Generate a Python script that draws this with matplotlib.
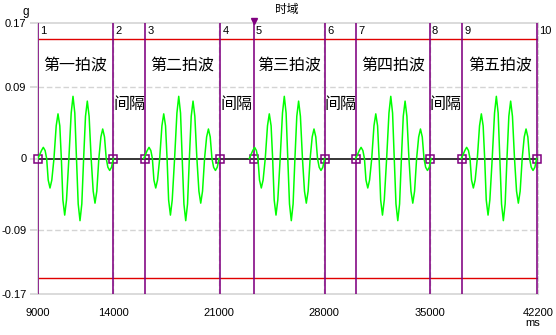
import matplotlib
matplotlib.use("Agg")
import matplotlib.pyplot as plt
from matplotlib.transforms import offset_copy

plt.rcParams['font.family'] = ['Liberation Sans', 'Noto Sans CJK SC', 'DejaVu Sans']

# ---- data ----
title = "时域"
y_unit = "g"
x_unit = "ms"
x_ticks = [9000, 14000, 21000, 28000, 35000, 42200]
y_ticks = [0.17, 0.09, 0, -0.09, -0.17]
y_tick_labels = ["0.17", "0.09", "0", "-0.09", "-0.17"]
x_min, x_max = 9000, 42200
y_min, y_max = -0.17, 0.17
limit_lines = [0.15, -0.15]

marker_ms = [9000, 14000, 16120, 21100, 23320, 28080, 30140, 35000, 37170, 42160]
marker_ids = ["1", "2", "3", "4", "5", "6", "7", "8", "9", "10"]
cursor_ms = 23320

beat_labels = ["第一拍波", "第二拍波", "第三拍波", "第四拍波", "第五拍波"]
gap_label = "间隔"

beat_starts_ms = [9000, 16020, 23030, 30100, 37110]
wave_offset_ms = [0, 232, 352, 472, 575, 677, 797, 917, 1060, 1208, 1328, 1448,
                  1550, 1653, 1773, 1893, 2050, 2204, 2324, 2444, 2555, 2669,
                  2789, 2909, 3030, 3154, 3274, 3394, 3530, 3665, 3785, 3905,
                  4040, 4176, 4296, 4416, 4530, 4641, 4761, 4881, 5000]
wave_value_g = [0, 0.010, 0.014, 0.010, 0, -0.027, -0.037, -0.027, 0, 0.041,
                0.056, 0.041, 0, -0.052, -0.071, -0.052, 0, 0.057, 0.078, 0.057,
                0, -0.057, -0.078, -0.057, 0, 0.053, 0.072, 0.053, 0, -0.041,
                -0.056, -0.041, 0, 0.027, 0.037, 0.027, 0, -0.011, -0.015,
                -0.011, 0]

beat_label_y = 0.1175
gap_label_y = 0.0675
id_label_y = 0.16

# ---- figure ----
W, H = 556, 335
fig = plt.figure(figsize=(W / 100, H / 100), dpi=100)
ax = fig.add_axes([38 / W, (H - 294) / H, 500 / W, 271 / H])
ax.set_xlim(x_min, x_max)
ax.set_ylim(y_min, y_max)

grid_c = "#d4d4d4"
for s in ["top", "bottom", "left"]:
    ax.spines[s].set_color(grid_c)
    ax.spines[s].set_linewidth(1.2)
ax.spines["right"].set_color(grid_c)
ax.spines["right"].set_linestyle((0, (4, 2)))

ax.set_yticks(y_ticks)
ax.set_yticklabels(y_tick_labels, fontsize=8)
ax.set_xticks(x_ticks)
ax.set_xticklabels([str(t) for t in x_ticks], fontsize=8)
ax.tick_params(axis="y", length=5.8, color=grid_c, width=1.2, pad=2.5)
ax.tick_params(axis="x", length=0, pad=10)

# dashed grid
for yv in [0.09, -0.09]:
    ax.axhline(yv, color=grid_c, lw=1, ls=(0, (4, 2)), zorder=0)
for xv in x_ticks[1:-1]:
    ax.axvline(xv, color=grid_c, lw=1, ls=(0, (4, 2)), zorder=0)

# limit lines
for yv in limit_lines:
    ax.axhline(yv, color="#e00000", lw=1.0, zorder=2)

# zero line
ax.plot([x_min, x_max], [0, 0], color="black", lw=1.1, zorder=2)

# marker lines
purple = "#800080"
for xm, lab in zip(marker_ms, marker_ids):
    ax.axvline(xm, color=purple, lw=1.15, zorder=3)
    ax.annotate(lab, xy=(xm, id_label_y), xytext=(1.5, 0), textcoords="offset points",
                ha="left", va="center", fontsize=8, annotation_clip=False)
ax.plot(marker_ms, [0] * len(marker_ms), ls="none", marker="s", ms=6,
        mfc="none", mec=purple, mew=1.1, zorder=3, clip_on=False)

# cursor triangle
ax.plot([cursor_ms], [y_max], marker="v", color=purple, ms=4.5, clip_on=False,
        transform=offset_copy(ax.transData, fig=fig, x=0, y=1.6, units="points"),
        zorder=5)

# waves
for st in beat_starts_ms:
    ax.plot([st + o for o in wave_offset_ms], wave_value_g, color="#00ff00", lw=1.1, zorder=4)

# labels
cjk = ['Noto Sans CJK SC', 'DejaVu Sans']
for i, lab in enumerate(beat_labels):
    xc = (marker_ms[2 * i] + marker_ms[2 * i + 1]) / 2
    ax.text(xc, beat_label_y, lab, ha="center", va="center", fontsize=11.5, family=cjk)
for i in range(4):
    xc = (marker_ms[2 * i + 1] + marker_ms[2 * i + 2]) / 2
    ax.text(xc, gap_label_y, gap_label, ha="center", va="center", fontsize=11.5, family=cjk)

fig.text(287 / W, 1 - 9 / H, title, ha="center", va="center", fontsize=8.5, family=cjk)
fig.text(26 / W, 1 - 12 / H, y_unit, ha="center", va="center", fontsize=8.5)
fig.text(533 / W, 1 - 323 / H, x_unit, ha="center", va="center", fontsize=8)

fig.savefig("out.png", dpi=100)
